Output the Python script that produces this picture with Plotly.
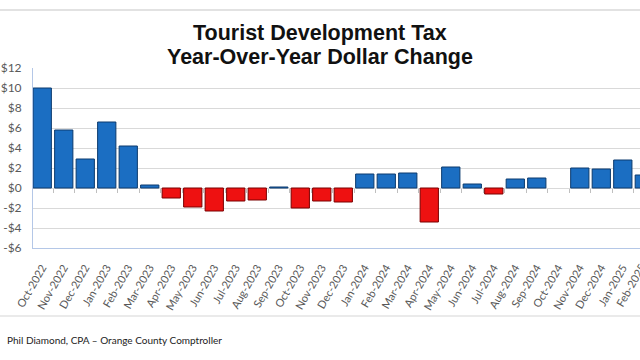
import plotly.graph_objects as go

months = ["Oct-2022", "Nov-2022", "Dec-2022", "Jan-2023", "Feb-2023", "Mar-2023",
          "Apr-2023", "May-2023", "Jun-2023", "Jul-2023", "Aug-2023", "Sep-2023",
          "Oct-2023", "Nov-2023", "Dec-2023", "Jan-2024", "Feb-2024", "Mar-2024",
          "Apr-2024", "May-2024", "Jun-2024", "Jul-2024", "Aug-2024", "Sep-2024",
          "Oct-2024", "Nov-2024", "Dec-2024", "Jan-2025", "Feb-2025"]
change = [10.0, 5.8, 2.9, 6.6, 4.2, 0.3,
          -1.0, -1.9, -2.3, -1.3, -1.2, 0.1,
          -2.0, -1.3, -1.4, 1.4, 1.4, 1.5,
          -3.4, 2.1, 0.4, -0.6, 0.9, 1.0,
          None, 2.0, 1.9, 2.8, 1.3]
y_tickvals = [12, 10, 8, 6, 4, 2, 0, -2, -4, -6]
y_ticktext = ["$12", "$10", "$8", "$6", "$4", "$2", "$0", "-$2", "-$4", "-$6"]

title_line1 = "Tourist Development Tax"
title_line2 = "Year-Over-Year Dollar Change"
footer = "Phil Diamond, CPA \u2013 Orange County Comptroller"

BLUE, BLUE_EDGE = "#1B6EC2", "#0C3B6E"
RED, RED_EDGE = "#EE1111", "#7A0000"
fill = [BLUE if (v or 0) >= 0 else RED for v in change]
edge = [BLUE_EDGE if (v or 0) >= 0 else RED_EDGE for v in change]

W, H = 640, 360
ML, MR, MT, MB = 33, 0, 68, 112
PW, PH = W - ML - MR, H - MT - MB
x_range = [-0.43, 27.8]
y_range = [-6, 12]
TICK_FONT = dict(family="Lato", size=11, color="#595959")
STANDOFF = 8

def px_to_paper_x(px):
    return (px - ML) / PW

def px_to_paper_y(py):
    return (H - MB - py) / PH

fig = go.Figure()
fig.add_trace(go.Bar(x=months, y=change, marker=dict(color=fill, line=dict(color=edge, width=1)),
                     hoverinfo="skip"))
# invisible copy to carry boundary tick marks along zero line
fig.add_trace(go.Bar(x=months, y=change, xaxis="x2", opacity=0, hoverinfo="skip", showlegend=False))

fig.update_layout(
    width=W, height=H,
    margin=dict(l=ML, r=MR, t=MT, b=MB, autoexpand=False),
    paper_bgcolor="white", plot_bgcolor="white",
    showlegend=False, bargap=0.15,
    font=dict(family="Lato", color="#595959"),
    xaxis=dict(type="category", range=x_range, showgrid=False, showline=True,
               linecolor="#B4C7E7", linewidth=1, tickangle=-60,
               tickfont=TICK_FONT, ticklabelstandoff=STANDOFF,
               ticks="", automargin=False, fixedrange=True),
    xaxis2=dict(type="category", overlaying="x", matches="x", anchor="free",
                position=(0 - y_range[0]) / (y_range[1] - y_range[0]),
                showticklabels=False, ticks="outside", tickson="boundaries",
                ticklen=4, tickcolor="#BFBFBF", showline=False, showgrid=False),
    yaxis=dict(range=y_range, tickvals=y_tickvals, ticktext=y_ticktext,
               showgrid=True, gridcolor="#D9D9D9", gridwidth=1,
               showline=True, linecolor="#B4C7E7", linewidth=1,
               zeroline=False, ticks="", ticklabelstandoff=8,
               tickfont=dict(family="Lato", size=12, color="#595959"),
               automargin=False, fixedrange=True),
)

# Feb-2025 label sits past the clipped right edge, so draw it as text
last_idx = len(months) - 1
lab_x = (last_idx - x_range[0]) / (x_range[1] - x_range[0]) + 6 / PW
fig.add_annotation(x=lab_x, y=px_to_paper_y(H - MB + STANDOFF + 3), xref="paper", yref="paper",
                   text=months[-1], showarrow=False, textangle=-60,
                   xanchor="right", yanchor="top", font=TICK_FONT)

fig.add_annotation(x=px_to_paper_x(320), y=px_to_paper_y(33), xref="paper", yref="paper",
                   text="<b>" + title_line1 + "</b>", showarrow=False, xanchor="center", yanchor="middle",
                   font=dict(family="Liberation Sans", size=21.5, color="#111111"))
fig.add_annotation(x=px_to_paper_x(320), y=px_to_paper_y(57), xref="paper", yref="paper",
                   text="<b>" + title_line2 + "</b>", showarrow=False, xanchor="center", yanchor="middle",
                   font=dict(family="Liberation Sans", size=21.5, color="#111111"))
fig.add_annotation(x=px_to_paper_x(5), y=px_to_paper_y(340), xref="paper", yref="paper",
                   text=footer, showarrow=False, xanchor="left", yanchor="middle",
                   font=dict(family="Lato", size=10, color="#222222"))

fig.add_shape(type="line", xref="paper", yref="paper",
              x0=px_to_paper_x(0), x1=px_to_paper_x(W), y0=px_to_paper_y(10), y1=px_to_paper_y(10),
              line=dict(color="#D9D9D9", width=1.5))
fig.add_shape(type="line", xref="paper", yref="paper",
              x0=px_to_paper_x(0), x1=px_to_paper_x(W), y0=px_to_paper_y(316), y1=px_to_paper_y(316),
              line=dict(color="#E3E3E3", width=1.5))

fig.write_html("out.html", config={"displayModeBar": False},
               post_script="document.body.style.margin='0';document.body.style.overflow='hidden';")
